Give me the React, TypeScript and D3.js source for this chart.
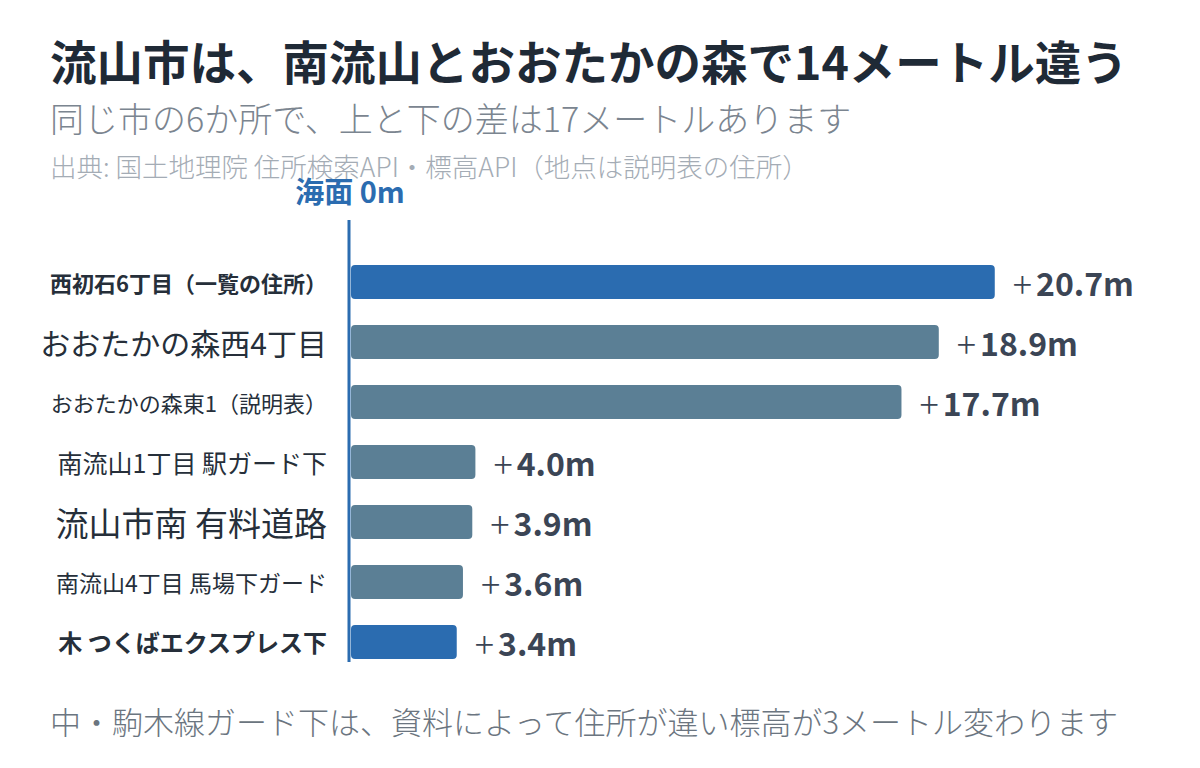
import React from "react";
import { scaleBand, scaleLinear } from "d3";

// 地点ラベルと標高（m）
const places = [
  "西初石6丁目（一覧の住所）",
  "おおたかの森西4丁目",
  "おおたかの森東1（説明表）",
  "南流山1丁目 駅ガード下",
  "流山市南 有料道路",
  "南流山4丁目 馬場下ガード",
  "木 つくばエクスプレス下",
];
const heights = [20.7, 18.9, 17.7, 4.0, 3.9, 3.6, 3.4];
const highlighted = [true, false, false, false, false, false, true];
const labelSizes = [22, 30, 22, 25, 33, 23, 24];
const labelBold = [true, false, false, false, false, false, true];

const title = "流山市は、南流山とおおたかの森で14メートル違う";
const subtitle = "同じ市の6か所で、上と下の差は17メートルあります";
const source = "出典: 国土地理院 住所検索API・標高API（地点は説明表の住所）";
const footer = "中・駒木線ガード下は、資料によって住所が違い標高が3メートル変わります";
const zeroLabel = "海面 0m";

const FONT = "'Noto Sans CJK JP', 'Noto Sans', sans-serif";

export default function App() {
  const width = 1200;
  const height = 768;

  const x = scaleLinear().domain([0, 20]).range([351, 973]);
  const y = scaleBand<string>()
    .domain(places)
    .range([252, 672])
    .paddingInner(0.433)
    .paddingOuter(0.2167);

  const blue = "#2b6cb0";
  const slate = "#5b7f95";

  return (
    <svg
      width={width}
      height={height}
      style={{ display: "block", position: "absolute", left: 0, top: 0, background: "#fff" }}
      fontFamily={FONT}
    >
      {/* タイトル */}
      <text x={50} y={59} dominantBaseline="central" fontSize={46.5} fontWeight={700} fill="#1f2a36">
        {title}
      </text>
      <text x={50} y={117} dominantBaseline="central" fontSize={34} fontWeight={300} fill="#7b8590">
        {subtitle}
      </text>
      <text x={50} y={165} dominantBaseline="central" fontSize={26.5} fontWeight={300} fill="#a4acb5">
        {source}
      </text>

      {/* 海面ライン */}
      <text x={350} y={190} dominantBaseline="central" textAnchor="middle" fontSize={29} fontWeight={700} fill={blue}>
        {zeroLabel}
      </text>
      <line x1={349} x2={349} y1={220} y2={662} stroke={blue} strokeWidth={3} />

      {/* バー */}
      {places.map((p, i) => {
        const y0 = y(p)!;
        const cy = y0 + y.bandwidth() / 2;
        return (
          <g key={p}>
            <rect
              x={x(0)}
              y={y0}
              width={x(heights[i]) - x(0)}
              height={y.bandwidth()}
              rx={4}
              fill={highlighted[i] ? blue : slate}
            />
            <text
              x={327}
              y={cy}
              dominantBaseline="central"
              textAnchor="end"
              fontSize={labelSizes[i]}
              fontWeight={labelBold[i] ? 700 : 400}
              fill="#262f3a"
            >
              {p}
            </text>
            <text
              x={x(heights[i]) + 18}
              y={cy}
              dominantBaseline="central"
              fontSize={32}
              fontWeight={700}
              fill="#3b4555"
            >
              <tspan fontWeight={300} fontSize={36}>+</tspan>
              <tspan dx={4}>{heights[i].toFixed(1)}m</tspan>
            </text>
          </g>
        );
      })}

      {/* 注記 */}
      <text x={50} y={720} dominantBaseline="central" fontSize={31} fontWeight={300} fill="#6b7580">
        {footer}
      </text>
    </svg>
  );
}
